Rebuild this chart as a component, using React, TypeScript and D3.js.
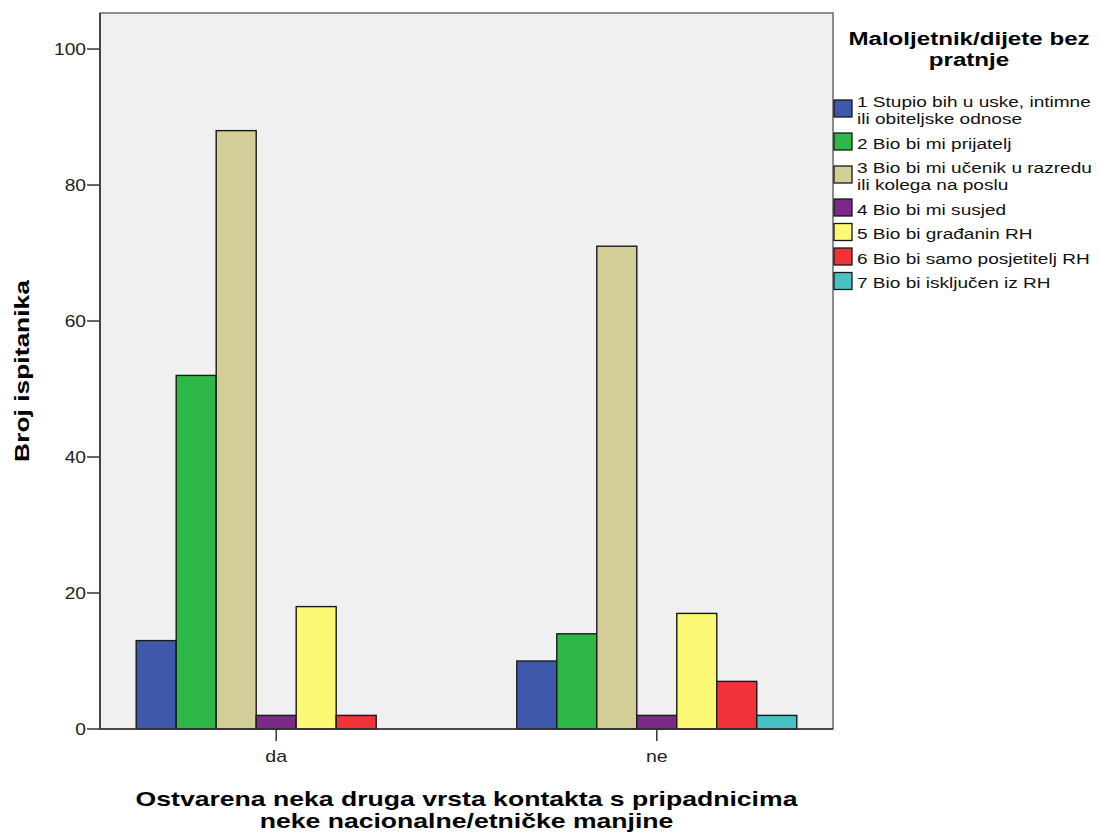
import React from 'react';
import * as d3 from 'd3';

// chart values
const categories = ['da', 'ne'];
const seriesLabels = [
  ['1 Stupio bih u uske, intimne', 'ili obiteljske odnose'],
  ['2 Bio bi mi prijatelj'],
  ['3 Bio bi mi učenik u razredu', 'ili kolega na poslu'],
  ['4 Bio bi mi susjed'],
  ['5 Bio bi građanin RH'],
  ['6 Bio bi samo posjetitelj RH'],
  ['7 Bio bi isključen iz RH'],
];
const seriesColors = ['#3E58AC', '#2EB848', '#D3CE97', '#7B2A88', '#FBF873', '#EF3338', '#48C2C5'];
const valuesDa = [13, 52, 88, 2, 18, 2, 0];
const valuesNe = [10, 14, 71, 2, 17, 7, 2];
const yTicks = [0, 20, 40, 60, 80, 100];
const legendTitle = ['Maloljetnik/dijete bez', 'pratnje'];
const xTitle = ['Ostvarena neka druga vrsta kontakta s pripadnicima', 'neke nacionalne/etničke manjine'];
const yTitle = 'Broj ispitanika';

const W = 1099;
const H = 836;
const FONT = '"Liberation Sans", Arial, sans-serif';
const SX = 1.25; // text in the reference is stretched horizontally

const plot = { left: 100, right: 833, top: 13, bottom: 729 };

const StretchText: React.FC<{
  x: number; y: number; size: number; anchor?: string; bold?: boolean; fill?: string; sx?: number; children: React.ReactNode;
}> = ({ x, y, size, anchor = 'start', bold = false, fill = '#000', sx = SX, children }) => (
  <g transform={`translate(${x},${y}) scale(${sx},1)`}>
    <text x={0} y={0} fontSize={size} fontFamily={FONT} fontWeight={bold ? 'bold' : 'normal'} textAnchor={anchor} fill={fill}>
      {children}
    </text>
  </g>
);

export default function App() {
  const yScale = d3.scaleLinear().domain([0, 105.3]).range([plot.bottom, plot.top]);
  const xScale = d3.scalePoint<string>().domain(categories).range([plot.left, plot.right]).padding(0.463);
  const inner = d3.scaleBand<number>().domain(d3.range(seriesLabels.length)).range([-140, 140]).paddingInner(0);
  const dataByCat = [valuesDa, valuesNe];

  // legend layout: first baseline of each item
  let base = 107;
  const legendRows = seriesLabels.map((lines, i) => {
    const row = { lines, color: seriesColors[i], baseline: base };
    base += (lines.length - 1) * 17 + 24.5;
    return row;
  });

  return (
    <svg width={W} height={H} style={{ position: 'absolute', left: 0, top: 0, background: '#fff' }}>
      <rect x={0} y={0} width={W} height={H} fill="#fff" />
      <rect x={plot.left} y={plot.top} width={plot.right - plot.left} height={plot.bottom - plot.top}
        fill="#F0F0F0" stroke="#6a6a6a" strokeWidth={1.5} />

      {/* bars */}
      {categories.map((c, ci) => (
        <g key={c}>
          {dataByCat[ci].map((v, si) => v > 0 && (
            <rect key={si}
              x={(xScale(c) || 0) + (inner(si) || 0)}
              y={yScale(v)}
              width={inner.bandwidth()}
              height={yScale(0) - yScale(v)}
              fill={seriesColors[si]} stroke="#1a1a1a" strokeWidth={1.4} />
          ))}
        </g>
      ))}

      {/* axes */}
      <line x1={plot.left} x2={plot.left} y1={plot.top} y2={plot.bottom} stroke="#333" strokeWidth={1.6} />
      <line x1={plot.left} x2={plot.right} y1={plot.bottom} y2={plot.bottom} stroke="#333" strokeWidth={1.6} />
      {yTicks.map(t => (
        <g key={t}>
          <line x1={plot.left - 13} x2={plot.left} y1={yScale(t)} y2={yScale(t)} stroke="#333" strokeWidth={1.5} />
          <StretchText x={plot.left - 14} y={yScale(t) + 5.5} size={16} anchor="end" fill="#222" sx={1.2}>{t}</StretchText>
        </g>
      ))}
      {categories.map(c => (
        <g key={c}>
          <line x1={xScale(c)} x2={xScale(c)} y1={plot.bottom} y2={plot.bottom + 12} stroke="#333" strokeWidth={1.5} />
          <StretchText x={xScale(c) || 0} y={762} size={16} anchor="middle" fill="#222" sx={1.22}>{c}</StretchText>
        </g>
      ))}

      {/* axis titles */}
      {xTitle.map((line, i) => (
        <StretchText key={i} x={(plot.left + plot.right) / 2} y={806 + i * 22} size={20} anchor="middle" bold sx={1.33}>{line}</StretchText>
      ))}
      <g transform={`translate(29,371) rotate(-90)`}>
        <StretchText x={0} y={0} size={20} anchor="middle" bold sx={1.32}>{yTitle}</StretchText>
      </g>

      {/* legend */}
      {legendTitle.map((line, i) => (
        <StretchText key={i} x={969} y={45 + i * 21} size={19} anchor="middle" bold sx={1.27}>{line}</StretchText>
      ))}
      {legendRows.map((r, i) => {
        const cy = r.baseline + (r.lines.length - 1) * 8.5 - 7;
        return (
          <g key={i}>
            <rect x={834} y={cy - 8.5} width={18} height={17} fill={r.color} stroke="#1a1a1a" strokeWidth={1.3} />
            {r.lines.map((l, li) => (
              <StretchText key={li} x={857} y={r.baseline + li * 17} size={15} fill="#111" sx={1.27}>{l}</StretchText>
            ))}
          </g>
        );
      })}
    </svg>
  );
}
